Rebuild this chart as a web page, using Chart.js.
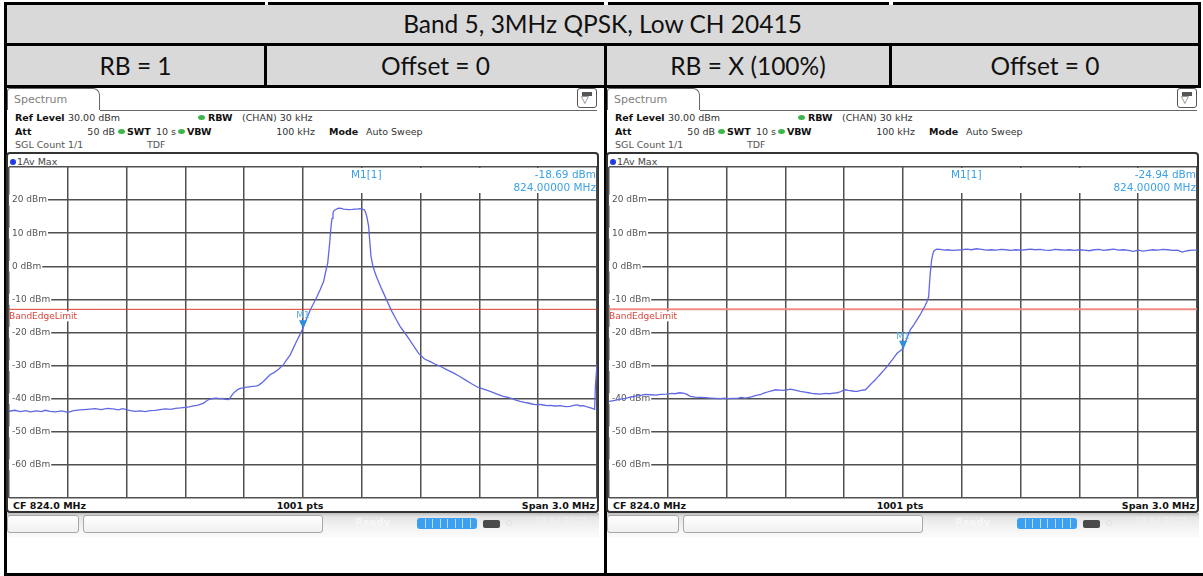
<!DOCTYPE html>
<html><head><meta charset="utf-8">
<script src="https://cdn.jsdelivr.net/npm/chart.js@4.4.1/dist/chart.umd.min.js"></script>
<style>
html,body{margin:0;padding:0;background:#fff;}
body{width:1203px;height:576px;position:relative;overflow:hidden;font-family:'DejaVu Sans',sans-serif;}
.a{position:absolute;}
.blk{position:absolute;background:#000;}
.hdr{position:absolute;background:#d9d9d9;font-family:Lato,'Open Sans',sans-serif;font-size:24.5px;color:#111;text-align:center;white-space:nowrap;}
.t{position:absolute;white-space:nowrap;font-size:9.5px;line-height:11px;color:#333;}
canvas{position:absolute;}
</style></head><body>

<div class="hdr" style="left:7px;top:5px;width:1191px;height:38px;line-height:38px;">Band 5, 3MHz QPSK, Low CH 20415</div>
<div class="hdr" style="left:7px;top:46px;width:257px;height:39px;line-height:39px;">RB = 1</div>
<div class="hdr" style="left:267px;top:46px;width:337px;height:39px;line-height:39px;">Offset = 0</div>
<div class="hdr" style="left:607px;top:46px;width:282px;height:39px;line-height:39px;">RB = X (100%)</div>
<div class="hdr" style="left:892px;top:46px;width:306px;height:39px;line-height:39px;">Offset = 0</div>

<!-- table rules -->
<div class="blk" style="left:4px;top:2px;width:261px;height:3px;"></div>
<div class="blk" style="left:268px;top:2px;width:336px;height:3px;"></div>
<div class="blk" style="left:608px;top:2px;width:281px;height:3px;"></div>
<div class="blk" style="left:893px;top:2px;width:308px;height:3px;"></div>
<div class="blk" style="left:4px;top:43px;width:1197px;height:3px;"></div>
<div class="blk" style="left:4px;top:85px;width:1197px;height:3px;"></div>
<div class="blk" style="left:4px;top:2px;width:3px;height:574px;"></div>
<div class="blk" style="left:1198px;top:2px;width:3px;height:86px;"></div>
<div class="blk" style="left:264px;top:43px;width:3px;height:45px;"></div>
<div class="blk" style="left:889px;top:43px;width:3px;height:45px;"></div>
<div class="blk" style="left:604px;top:43px;width:3px;height:533px;"></div>
<div class="blk" style="left:4px;top:573px;width:1199px;height:3px;"></div>

<div id="panels"></div>

<script>
// ---------- axes ----------
const xGridMHz = [822.5, 822.8, 823.1, 823.4, 823.7, 824.0, 824.3, 824.6, 824.9, 825.2, 825.5];
const yTicksDbm = [-70, -60, -50, -40, -30, -20, -10, 0, 10, 20, 30];
const limitDbm = -13;
const markerFreqMHz = 824.0;
const markerLevelDbm = [-18.69, -24.94];

// ---------- trace: RB = 1, offset 0 ----------
const rb1Freq = [
822.500,822.530,822.558,822.585,822.609,822.640,822.665,822.685,822.710,822.736,
822.770,822.800,822.830,822.864,822.900,822.940,822.970,823.002,823.030,823.058,
823.080,823.098,823.120,823.144,823.170,823.195,823.220,823.246,823.270,823.298,
823.325,823.349,823.375,823.400,823.420,823.440,823.460,823.476,823.490,823.502,
823.515,823.527,823.542,823.558,823.575,823.588,823.605,823.619,823.628,823.634,
823.645,823.655,823.668,823.680,823.695,823.706,823.725,823.741,823.758,823.772,
823.788,823.803,823.818,823.833,823.850,823.869,823.885,823.900,823.920,823.935,
823.950,823.966,823.983,824.000,824.018,824.037,824.055,824.071,824.088,824.105,
824.114,824.120,824.126,824.131,824.136,824.140,824.143,824.148,824.153,824.159,
824.165,824.178,824.190,824.207,824.220,824.233,824.252,824.265,824.276,824.290,
824.301,824.313,824.320,824.327,824.335,824.340,824.347,824.357,824.367,824.378,
824.395,824.411,824.432,824.454,824.475,824.496,824.518,824.539,824.565,824.590,
824.620,824.649,824.675,824.700,824.735,824.767,824.800,824.828,824.860,824.894,
824.925,824.955,824.990,825.022,825.045,825.067,825.090,825.108,825.130,825.149,
825.168,825.185,825.205,825.226,825.245,825.261,825.285,825.312,825.340,825.363,
825.380,825.399,825.415,825.430,825.445,825.460,825.475,825.488,825.492,825.500];
const rb1Level = [
-43.8,-43.5,-43.9,-43.6,-44.0,-43.7,-43.9,-43.5,-43.8,-44.0,
-43.7,-44.1,-43.6,-43.4,-43.2,-43.0,-43.3,-42.9,-43.1,-43.4,
-43.0,-43.3,-43.6,-43.8,-43.7,-43.9,-43.6,-43.5,-43.3,-43.1,
-43.2,-42.9,-42.8,-42.6,-42.5,-42.2,-42.0,-41.7,-41.4,-40.9,
-40.4,-40.1,-39.9,-39.8,-40.0,-39.9,-40.2,-40.3,-39.8,-39.2,
-38.3,-37.8,-37.2,-36.9,-36.7,-36.6,-36.4,-36.3,-36.2,-36.0,
-35.3,-34.5,-33.6,-32.7,-32.2,-31.4,-30.6,-29.7,-28.0,-26.8,
-24.8,-22.8,-20.8,-18.69,-15.9,-13.2,-11.1,-9.2,-7.0,-4.6,
-2.1,-0.5,0.9,4.0,7.0,10.0,12.0,14.5,16.1,16.9,
17.1,17.5,17.6,17.3,17.2,17.1,17.2,17.3,17.3,17.4,
17.3,17.1,16.2,14.6,12.0,8.0,3.0,0.0,-1.9,-3.6,
-6.0,-8.1,-10.9,-13.7,-16.0,-18.2,-20.0,-21.8,-24.1,-26.3,
-28.0,-28.8,-29.6,-30.2,-31.3,-32.2,-33.3,-34.3,-35.5,-36.6,
-37.2,-37.8,-38.6,-39.3,-39.6,-40.0,-40.5,-40.8,-41.1,-41.3,
-41.6,-41.8,-41.7,-41.9,-42.1,-42.0,-42.2,-42.1,-42.4,-42.3,
-42.0,-41.9,-42.2,-42.1,-42.4,-42.6,-42.9,-43.2,-36.0,-29.7];

// ---------- trace: RB = X (100%), offset 0 ----------
const rbAllFreq = [
822.500,822.530,822.558,822.585,822.609,822.635,822.660,822.685,822.711,822.740,
822.762,822.797,822.820,822.838,822.860,822.879,822.895,822.915,822.940,822.966,
822.990,823.017,823.045,823.068,823.090,823.104,823.130,823.155,823.175,823.195,
823.215,823.231,823.250,823.272,823.290,823.313,823.330,823.349,823.370,823.390,
823.410,823.425,823.450,823.476,823.500,823.518,823.535,823.553,823.580,823.604,
823.625,823.645,823.665,823.681,823.695,823.706,823.720,823.737,823.752,823.767,
823.785,823.808,823.820,823.833,823.846,823.859,823.875,823.889,823.905,823.920,
823.933,823.946,823.958,823.971,823.985,824.000,824.018,824.037,824.055,824.071,
824.087,824.101,824.112,824.122,824.131,824.135,824.139,824.146,824.151,824.156,
824.165,824.173,824.190,824.210,824.230,824.250,824.276,824.300,824.325,824.350,
824.375,824.400,824.425,824.450,824.475,824.500,824.525,824.550,824.575,824.600,
824.625,824.650,824.675,824.700,824.725,824.750,824.775,824.800,824.825,824.850,
824.875,824.900,824.925,824.950,824.975,825.000,825.025,825.050,825.075,825.100,
825.125,825.150,825.175,825.200,825.225,825.250,825.275,825.300,825.325,825.350,
825.375,825.400,825.425,825.450,825.475,825.500];
const rbAllLevel = [
-40.8,-40.5,-40.1,-39.9,-39.5,-39.2,-39.0,-38.7,-38.8,-38.9,
-38.7,-38.6,-38.4,-38.5,-38.2,-38.3,-38.6,-39.3,-39.5,-39.6,
-39.7,-39.8,-39.9,-40.0,-39.8,-40.0,-39.9,-39.9,-39.6,-39.8,
-39.6,-39.4,-39.0,-38.8,-38.3,-37.9,-37.6,-37.3,-37.4,-37.5,
-37.3,-37.1,-37.4,-37.8,-38.0,-38.2,-38.4,-38.5,-38.6,-38.4,
-38.5,-38.3,-38.2,-37.9,-37.5,-37.3,-37.5,-37.6,-37.8,-37.8,
-37.5,-37.3,-36.6,-35.8,-35.0,-34.3,-33.2,-32.3,-31.2,-30.2,
-29.2,-28.2,-27.2,-26.2,-25.6,-24.94,-22.1,-19.2,-17.7,-16.2,
-14.7,-13.2,-12.0,-10.7,-9.2,-5.5,-2.1,1.9,3.4,4.5,
5.0,5.2,5.1,4.9,5.0,4.8,4.9,5.0,5.2,5.0,
5.3,5.1,4.9,5.0,4.9,5.1,5.0,4.8,5.0,4.9,
5.0,5.2,5.0,5.1,4.9,4.8,5.1,5.0,4.9,5.0,
4.8,5.0,4.9,4.7,5.0,5.1,4.8,5.0,5.2,4.9,
5.0,4.8,4.5,4.9,4.6,4.8,5.0,4.9,5.1,5.0,
4.8,4.9,4.3,4.7,4.9,4.9];

const panels = [
  {x0: 0,   freq: rb1Freq,   level: rb1Level,   marker: markerLevelDbm[0], limitColor: '#dc3b30', limitWidth: 1},
  {x0: 600, freq: rbAllFreq, level: rbAllLevel, marker: markerLevelDbm[1], limitColor: '#f08a84', limitWidth: 2}
];

const root = document.getElementById('panels');
function el(css, text, cls) {
  const d = document.createElement('div');
  d.className = cls || 'a';
  d.style.cssText = css;
  if (text !== undefined) d.textContent = text;
  root.appendChild(d);
  return d;
}

const overlay = {
  id: 'overlay',
  beforeDatasetsDraw(chart, args, o) {
    const {ctx, chartArea: a, scales: {x}} = chart;
    const xl = x.getPixelForValue(markerFreqMHz);
    ctx.save();
    ctx.fillStyle = '#ffffff';
    ctx.fillRect(Math.round(xl) + 1.5, a.top + 1, a.right - Math.round(xl) - 2.5, 25);
    ctx.restore();
  },
  afterDatasetsDraw(chart, args, o) {
    const {ctx, chartArea: a, scales: {x, y}} = chart;
    ctx.save();
    const ly = y.getPixelForValue(limitDbm);
    ctx.font = '9px "DejaVu Sans"';
    ctx.textBaseline = 'top';
    ctx.textAlign = 'left';
    const w = ctx.measureText('BandEdgeLimit').width;
    ctx.fillStyle = '#ffffff';
    ctx.fillRect(a.left + 1, ly + 2, w + 1, 10);
    ctx.fillStyle = '#e0433a';
    ctx.fillText('BandEdgeLimit', a.left, ly + 2.5);
    const px = x.getPixelForValue(markerFreqMHz), py = y.getPixelForValue(o.level);
    ctx.fillStyle = '#2a8fdc';
    ctx.beginPath();
    ctx.moveTo(px - 4, py - 8); ctx.lineTo(px + 4, py - 8); ctx.lineTo(px, py); ctx.closePath(); ctx.fill();
    ctx.fillStyle = '#56b2ea';
    ctx.textAlign = 'center';
    ctx.textBaseline = 'bottom';
    ctx.fillText('M1', px, py - 8);
    ctx.restore();
  }
};

panels.forEach((p, k) => {
  const x0 = p.x0;
  el(`left:${x0+7}px;top:88px;width:93px;height:22px;border:1px solid #666;border-bottom:none;border-radius:3px 7px 0 0;box-sizing:border-box;font-size:11px;color:#808080;line-height:22px;padding-left:6px;`, 'Spectrum');
  el(`left:${x0+100}px;top:110px;width:497px;height:1px;background:#666;`);
  el(`left:${x0+577}px;top:88px;width:20px;height:20px;border:1px solid #555;border-radius:3px;box-sizing:border-box;background:#fff;`);
  el(`left:${x0+582}px;top:92px;width:10px;height:4px;background:#555;`);
  el(`left:${x0+581}px;top:95px;font-size:10px;line-height:10px;color:#444;`, '\u25BD');

  const T = (x, top, txt, extra) => el(`left:${x0+x}px;top:${top}px;${extra||''}`, txt, 't');
  const TR = (right, top, txt, extra) => el(`left:${x0+right-80}px;width:80px;text-align:right;top:${top}px;${extra||''}`, txt, 't');
  const dot = (x, top) => el(`left:${x0+x}px;top:${top}px;width:7px;height:5px;border-radius:50%;background:#3db54a;`);
  T(15, 112, 'Ref Level', 'font-weight:bold;color:#111;');
  T(68, 112, '30.00 dBm');
  dot(198, 115);
  T(208, 112, 'RBW', 'font-weight:bold;color:#111;');
  T(242, 112, '(CHAN) 30 kHz');
  T(15, 126, 'Att', 'font-weight:bold;color:#111;');
  TR(115, 126, '50 dB');
  dot(118, 129);
  T(127, 126, 'SWT', 'font-weight:bold;color:#111;');
  T(156, 126, '10 s');
  dot(178, 129);
  T(187, 126, 'VBW', 'font-weight:bold;color:#111;');
  TR(315, 126, '100 kHz');
  T(329, 126, 'Mode', 'font-weight:bold;color:#111;');
  T(366, 126, 'Auto Sweep');
  T(15, 139, 'SGL Count 1/1', 'color:#555;');
  T(147, 139, 'TDF', 'color:#555;');

  el(`left:${x0+6}px;top:152px;width:593px;height:361px;border:2px solid #333;border-radius:4px;box-sizing:border-box;`);
  el(`left:${x0+10}px;top:159px;width:6px;height:6px;border-radius:50%;background:#1f3de0;`);
  T(17, 156, '1Av Max', 'color:#444;');

  T(13, 500, 'CF 824.0 MHz', 'font-weight:bold;color:#111;');
  el(`left:${x0+250}px;width:100px;text-align:center;top:500px;font-weight:bold;color:#111;`, '1001 pts', 't');
  TR(595, 500, 'Span 3.0 MHz', 'font-weight:bold;color:#111;');

  el(`left:${x0+7}px;top:513px;width:592px;height:24px;background:linear-gradient(to bottom,#bdbdbd 0px,#e6e6e6 4px,#f3f3f3 60%,#fbfbfb 100%);`);
  el(`left:${x0+7}px;top:515px;width:72px;height:18px;border:1px solid #a8a8a8;border-radius:3px;box-sizing:border-box;background:linear-gradient(#fff,#f0f0f0);`);
  el(`left:${x0+83}px;top:515px;width:240px;height:18px;border:1px solid #a8a8a8;border-radius:3px;box-sizing:border-box;background:linear-gradient(#fff,#f0f0f0);`);
  el(`left:${x0+355}px;top:517px;font-size:10px;color:#f6f6f6;font-weight:bold;`, 'Ready', 'a');
  el(`left:${x0+417}px;top:518px;width:60px;height:11px;border-radius:3px;background:#3c9ff0;`);
  for (let i = 1; i < 8; i++) el(`left:${x0+417+i*7.5}px;top:519px;width:1px;height:9px;background:#b8dcfb;`);
  el(`left:${x0+483}px;top:520px;width:17px;height:8px;background:#4a4a4a;border-radius:2px;`);
  el(`left:${x0+506}px;top:519px;font-size:7px;color:#d0d0d0;`, '\u25CB', 'a');
  el(`left:${x0+535}px;top:516px;font-size:9px;color:#f2f2f2;`, '18.04.2022', 'a');

  const cv = document.createElement('canvas');
  cv.width = 594; cv.height = 337;
  cv.style.cssText = `left:${x0+6}px;top:164px;width:594px;height:337px;`;
  root.appendChild(cv);

  T(351, 169, 'M1[1]', 'font-size:10.5px;color:#3ba0e6;z-index:3;');
  TR(596, 169, p.marker.toFixed(2) + ' dBm', 'font-size:10.5px;color:#3ba0e6;z-index:3;');
  el(`left:${x0+476}px;width:120px;text-align:right;top:182px;font-size:10.5px;color:#3ba0e6;z-index:3;`, markerFreqMHz.toFixed(5) + ' MHz', 't');

  new Chart(cv, {
    type: 'line',
    data: {
      datasets: [
        {
          label: 'Trace 1',
          data: p.freq.map((f, i) => ({x: f, y: p.level[i]})),
          borderColor: '#6068e4', borderWidth: 1.3, pointRadius: 0, tension: 0, fill: false
        },
        {
          label: 'BandEdgeLimit',
          data: [{x: xGridMHz[0], y: limitDbm}, {x: xGridMHz[xGridMHz.length - 1], y: limitDbm}],
          borderColor: p.limitColor, borderWidth: p.limitWidth, pointRadius: 0, fill: false
        }
      ]
    },
    options: {
      responsive: false, animation: false, devicePixelRatio: 1,
      layout: {padding: 3},
      plugins: {legend: {display: false}, tooltip: {enabled: false}, overlay: {level: p.marker}},
      scales: {
        x: {
          type: 'linear', min: xGridMHz[0], max: xGridMHz[xGridMHz.length - 1],
          afterBuildTicks: s => { s.ticks = xGridMHz.map(v => ({value: v})); },
          afterFit: s => { s.height = 0; s.paddingLeft = 0; s.paddingRight = 0; },
          ticks: {display: false},
          grid: {color: '#505050', lineWidth: 1.5, drawTicks: false},
          border: {display: false}
        },
        y: {
          type: 'linear', min: yTicksDbm[0], max: yTicksDbm[yTicksDbm.length - 1],
          afterBuildTicks: s => { s.ticks = yTicksDbm.map(v => ({value: v})); },
          afterFit: s => { s.width = 0; s.paddingTop = 0; s.paddingBottom = 0; },
          ticks: {
            mirror: true, padding: 3, color: '#555',
            font: {family: 'DejaVu Sans', size: 9},
            callback: v => (v === yTicksDbm[0] || v === yTicksDbm[yTicksDbm.length - 1]) ? '' : v + ' dBm',
            showLabelBackdrop: true,
            backdropColor: c => (c.tick && (c.tick.value === yTicksDbm[0] || c.tick.value === yTicksDbm[yTicksDbm.length - 1])) ? 'rgba(0,0,0,0)' : '#ffffff',
            backdropPadding: {left: 3, right: 1, top: 0, bottom: 0}
          },
          grid: {color: '#505050', lineWidth: 1.5, drawTicks: false},
          border: {display: false}
        }
      }
    },
    plugins: [overlay]
  });
});
</script>
</body></html>
